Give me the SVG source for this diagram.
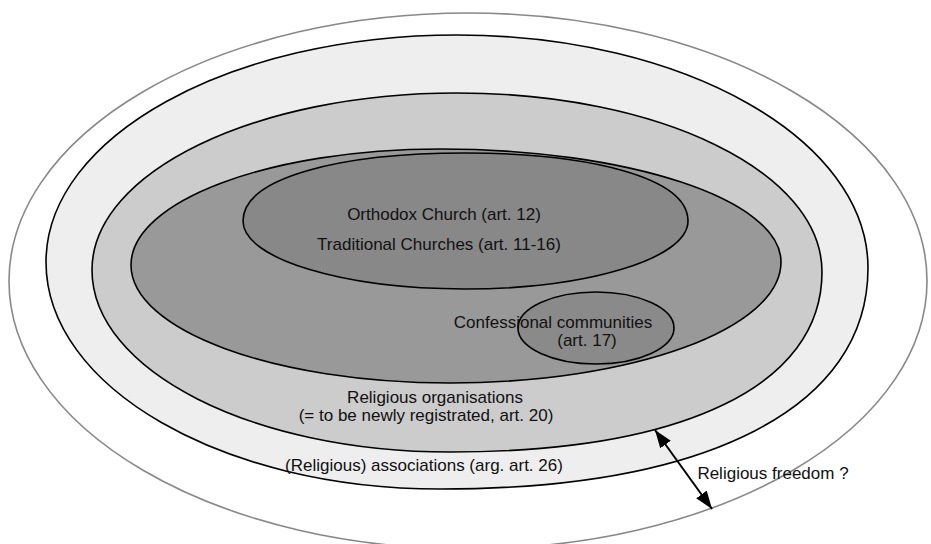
<svg xmlns="http://www.w3.org/2000/svg" width="931" height="544" viewBox="0 0 931 544">
<style>
.s{stroke:#000;stroke-width:1.6}
.t{font-family:"Liberation Sans",Arial,sans-serif;font-size:17px;fill:#111;text-anchor:middle}
</style>
<defs>
<marker id="ah" viewBox="0 0 18 13" refX="18" refY="6.5" markerWidth="18" markerHeight="13" markerUnits="userSpaceOnUse" orient="auto-start-reverse">
<path d="M0,0 L18,6.5 L0,13 z" fill="#000"/>
</marker>
</defs>
<rect width="931" height="544" fill="#fff"/>
<g id="freedom-zone"><ellipse cx="468" cy="281" rx="459" ry="268" fill="#fff" stroke="#888" stroke-width="1.6"/></g>
<g id="associations"><path class="s" fill="#eee" d="M46,262 C46,136.6 230,35 457,35 C684,35 868,139.3 868,268 C868,407.2 709.6,489 440,489 C222.4,489 46,387.4 46,262 Z"/></g>
<g id="organisations"><path class="s" fill="#ccc" d="M92,270 C92,172.2 255.4,93 457,93 C658.6,93 822,171.1 822,272 C822,385.4 684.4,452 450,452 C252.3,452 92,370.5 92,270 Z"/></g>
<g id="traditional"><path class="s" fill="#999" d="M131,265 C131,200.9 269.3,149 440,149 C628.3,149 781,199.6 781,262 C781,328.8 632.8,383 450,383 C273.8,383 131,330.2 131,265 Z"/></g>
<g id="orthodox"><path class="s" fill="#888" d="M243,221 C243,176.8 342.3,153 465,153 C587.7,153 688,176.8 688,221 C688,258.6 587.7,289 465,289 C342.3,289 243,258.6 243,221 Z"/></g>
<g id="confessional"><ellipse class="s" cx="596" cy="328" rx="78" ry="36" fill="#8a8a8a"/></g>
<g id="labels">
<text class="t" x="444" y="220">Orthodox Church (art. 12)</text>
<text class="t" x="439" y="250">Traditional Churches (art. 11-16)</text>
<text class="t" x="553" y="328">Confessional communities</text>
<text class="t" x="587" y="346">(art. 17)</text>
<text class="t" x="435" y="403">Religious organisations</text>
<text class="t" x="426" y="421">(= to be newly registrated, art. 20)</text>
<text class="t" x="424" y="471">(Religious) associations (arg. art. 26)</text>
<text class="t" x="773" y="479">Religious freedom ?</text>
</g>
<g id="connectors">
<line x1="655" y1="430" x2="712" y2="509" stroke="#000" stroke-width="2" marker-start="url(#ah)" marker-end="url(#ah)"/>
</g>
</svg>
